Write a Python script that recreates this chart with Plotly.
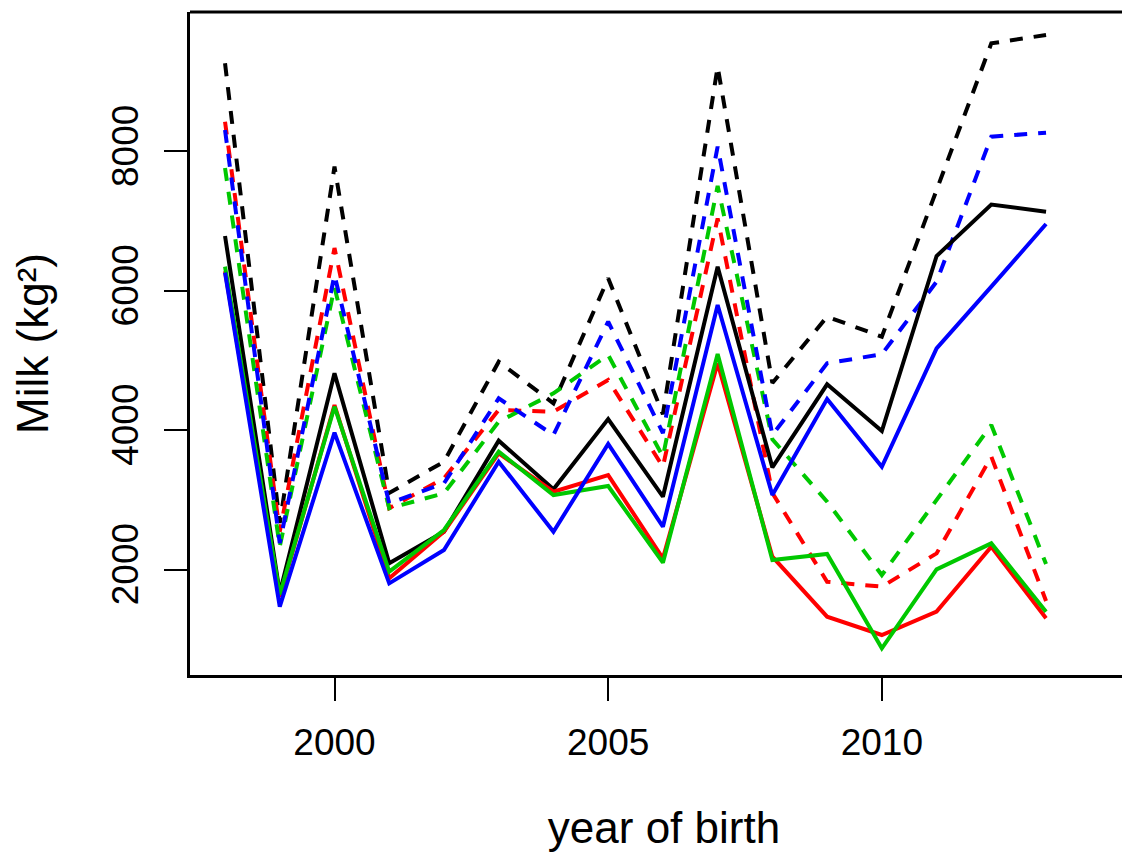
import plotly.graph_objects as go

years = list(range(1998, 2014))

# solid lines
black_solid = [6786, 1664, 4816, 2090, 2544, 3850, 3152, 4160, 3046, 6346, 3467, 4658, 3988, 6499, 7238, 7135]
red_solid = [6280, 1612, 4361, 1875, 2544, 3668, 3118, 3357, 2162, 4960, 2185, 1325, 1062, 1397, 2329, 1301]
green_solid = [6346, 1640, 4337, 1970, 2568, 3692, 3070, 3199, 2099, 5093, 2138, 2224, 871, 2004, 2377, 1396]
blue_solid = [6260, 1468, 3965, 1803, 2281, 3548, 2544, 3802, 2616, 5796, 3070, 4448, 3476, 5175, 6059, 6958]

# dashed lines
black_dashed = [9264, 2668, 7781, 3100, 3548, 4983, 4386, 6179, 4230, 9215, 4677, 5629, 5342, 7450, 9550, 9670]
red_dashed = [8426, 2544, 6614, 2880, 3310, 4290, 4266, 4720, 3476, 7040, 3100, 1826, 1755, 2233, 3620, 1550]
green_dashed = [7762, 2330, 6050, 2880, 3095, 4122, 4529, 5079, 3620, 7504, 3869, 2975, 1922, 2989, 4075, 2080]
blue_dashed = [8307, 2380, 6227, 2950, 3238, 4457, 3931, 5557, 3960, 8068, 3931, 4960, 5090, 6130, 8211, 8269]

x_ticks = [2000, 2005, 2010]
y_ticks = [2000, 4000, 6000, 8000]

BLACK, RED, GREEN, BLUE = "#000000", "#FF0000", "#00C800", "#0000FF"
FONT = "Liberation Sans, Arial, sans-serif"
DASH = "13px,11px"

fig = go.Figure()

series = [
    (black_dashed, BLACK, DASH),
    (red_dashed, RED, DASH),
    (green_dashed, GREEN, DASH),
    (blue_dashed, BLUE, DASH),
    (black_solid, BLACK, "solid"),
    (red_solid, RED, "solid"),
    (green_solid, GREEN, "solid"),
    (blue_solid, BLUE, "solid"),
]
for vals, col, dash in series:
    fig.add_trace(go.Scatter(
        x=years, y=vals, mode="lines",
        line=dict(color=col, width=4, dash=dash),
        showlegend=False, hoverinfo="skip",
    ))

# top border of the box (right side runs off the picture)
fig.add_shape(type="line", xref="paper", yref="paper", x0=0, x1=1, y0=1, y1=1,
              line=dict(color="black", width=3))

fig.update_layout(
    width=1130, height=856,
    margin=dict(l=182, r=0, t=4, b=189),
    plot_bgcolor="white", paper_bgcolor="white",
    font=dict(family=FONT, size=37, color="black"),
    xaxis=dict(
        range=[1997.36, 2014.68], tickvals=x_ticks, ticks="outside",
        ticklen=23, tickwidth=2, tickcolor="black",
        showline=True, linewidth=3, linecolor="black",
        showgrid=False, zeroline=False, ticklabelstandoff=10,
        automargin=False,
        title=dict(text="year of birth", standoff=50),
    ),
    yaxis=dict(
        range=[488, 10000], tickvals=y_ticks, ticks="outside",
        ticklen=23, tickwidth=2, tickcolor="black",
        showline=True, linewidth=3, linecolor="black",
        showgrid=False, zeroline=False, tickangle=-90, ticklabelstandoff=11,
        automargin=False,
        title=dict(text="Milk (kg²)", standoff=48),
    ),
)

fig.write_html("out.html")
